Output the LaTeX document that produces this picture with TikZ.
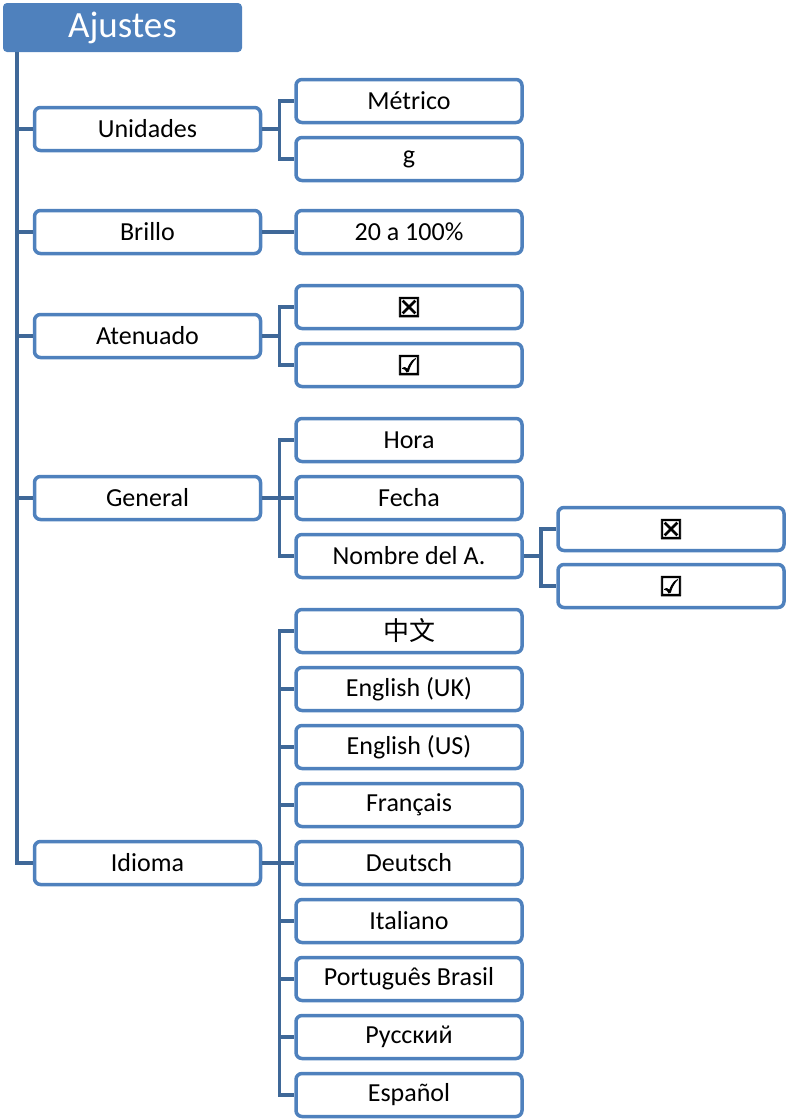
\documentclass[tikz,border=0pt]{standalone}
\usepackage{fontspec}
\setmainfont{Carlito}
\newfontfamily\cjkfont{Noto Sans CJK SC}
\newfontfamily\symfont{DejaVu Sans}[BoldFont={DejaVu Sans}, BoldFeatures={FakeBold=3}]
\definecolor{boxblue}{HTML}{4F81BD}
\definecolor{lineblue}{HTML}{3F6898}
\tikzset{
  item/.style={draw=boxblue, line width=3.5pt, rounded corners=6pt, fill=white,
    minimum width=226pt, minimum height=43pt, inner sep=0pt,
    font=\fontsize{26}{30}\selectfont},
  head/.style={fill=boxblue, rounded corners=4pt, minimum width=239pt,
    minimum height=49pt, inner sep=0pt, text=white,
    font=\fontsize{37}{40}\selectfont},
  link/.style={draw=lineblue, line width=3.5pt},
}
\newcommand{\boxno}{{\symfont\bfseries\fontsize{27}{30}\selectfont ☒}}
\newcommand{\boxyes}{{\symfont\bfseries\fontsize{27}{30}\selectfont ☑}}
\begin{document}
\begin{tikzpicture}[x=1pt,y=-1pt]
\useasboundingbox (0,0) rectangle (787,1119);

% Heading
\node [head] (ajustes) at (122.5,27.5) {Ajustes};
\coordinate (root) at (17,52);

% First level
\node [item] (unid) at (147.5,129) {Unidades};
\node [item] (brillo) at (147.5,232) {Brillo};
\node [item] (aten) at (147.5,336) {Atenuado};
\node [item] (gen) at (147.5,498) {General};
\node [item] (idioma) at (147.5,863) {Idioma};

% Second level
\node [item] (metrico) at (409,101) {Métrico};
\node [item] (gramo) at (409,159) {g};
\node [item] (pct) at (409,232) {20 a 100\%};
\node [item] (atenno) at (409,307) {\boxno};
\node [item] (atensi) at (409,365) {\boxyes};
\node [item] (hora) at (409,440) {Hora};
\node [item] (fecha) at (409,498) {Fecha};
\node [item] (nombre) at (409,556) {Nombre del A.};
\node [item] (zh) at (409,631) {\cjkfont 中文};
\node [item] (enuk) at (409,689) {English (UK)};
\node [item] (enus) at (409,747) {English (US)};
\node [item] (fr) at (409,805) {Français};
\node [item] (de) at (409,863) {Deutsch};
\node [item] (it) at (409,921) {Italiano};
\node [item] (pt) at (409,979) {Português Brasil};
\node [item] (ru) at (409,1037) {Русский};
\node [item] (es) at (409,1095) {Español};

% Third level
\node [item] (nomno) at (671,529) {\boxno};
\node [item] (nomsi) at (671,586) {\boxyes};

% Main line
\foreach \n in {unid,brillo,aten,gen,idioma}
  \draw [link] (root) |- (\n.west);

% Branches
\foreach \n in {metrico,gramo}
  \draw [link] (unid.east) -- ++(17,0) |- (\n.west);
\draw [link] (brillo.east) -- (pct.west);
\foreach \n in {atenno,atensi}
  \draw [link] (aten.east) -- ++(17,0) |- (\n.west);
\foreach \n in {hora,fecha,nombre}
  \draw [link] (gen.east) -- ++(17,0) |- (\n.west);
\foreach \n in {nomno,nomsi}
  \draw [link] (nombre.east) -- ++(17,0) |- (\n.west);
\foreach \n in {zh,enuk,enus,fr,de,it,pt,ru,es}
  \draw [link] (idioma.east) -- ++(17,0) |- (\n.west);

\end{tikzpicture}
\end{document}
